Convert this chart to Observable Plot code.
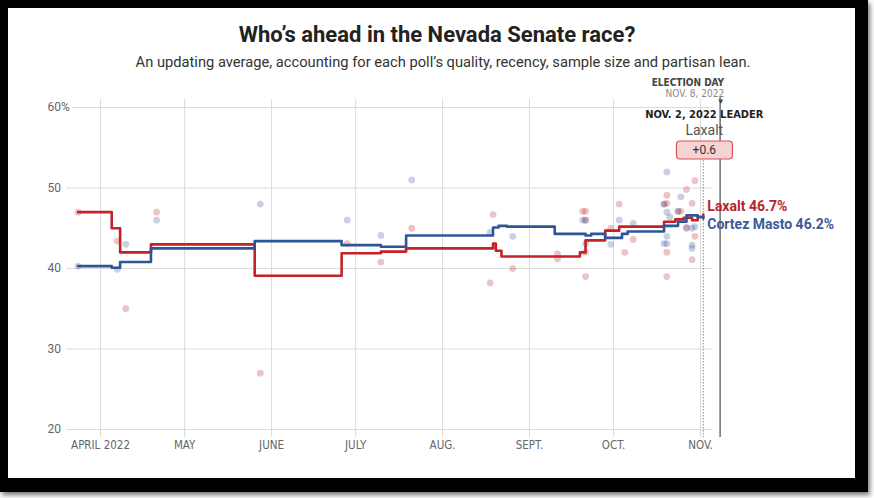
<!DOCTYPE html>
<html>
<head>
<meta charset="utf-8">
<script src="https://cdn.jsdelivr.net/npm/d3@7"></script>
<script src="https://cdn.jsdelivr.net/npm/@observablehq/plot@0.6"></script>
<style>
  html, body { margin: 0; padding: 0; background: #fff; width: 874px; height: 498px; overflow: hidden; }
  #frame { position: absolute; left: 0; top: 0; width: 868px; height: 492px; box-sizing: border-box;
           border-style: solid; border-color: #000; border-width: 8px 13px 14px 8px;
           box-shadow: 2px 3px 5px rgba(0,0,0,0.55); pointer-events: none; }
  #title { position: absolute; left: 0; top: 22px; width: 874px; text-align: center;
           font-family: Roboto, "Liberation Sans", sans-serif; font-weight: 700; font-size: 22px; color: #222; }
  #subtitle { position: absolute; left: 6px; top: 53px; width: 874px; text-align: center;
           font-family: Roboto, "Liberation Sans", sans-serif; font-size: 14.7px; color: #333; }
  #chart { position: absolute; left: 0; top: 70px; }
</style>
</head>
<body>
<div id="title">Who’s ahead in the Nevada Senate race?</div>
<div id="subtitle">An updating average, accounting for each poll’s quality, recency, sample size and partisan lean.</div>
<div id="chart"></div>
<div id="frame"></div>
<script>
// ---- Data ----
const candidates = ["Laxalt", "Cortez Masto"];
const colors = ["#c42229", "#2e5597"];
const labelColors = ["#b5252b", "#3d5a99"];

// Polling averages (step changes)
const laxaltAvgDates = ["2022-03-24","2022-04-05","2022-04-08","2022-04-19","2022-05-26","2022-06-26","2022-07-10","2022-07-19","2022-08-19","2022-08-20","2022-08-22","2022-09-19","2022-09-21","2022-09-28","2022-10-03","2022-10-19","2022-10-23","2022-10-26","2022-10-29","2022-10-31","2022-11-02"];
const laxaltAvgValues = [47.0,45.0,42.0,43.0,39.1,41.9,42.1,42.5,43.1,42.2,41.5,42.0,43.5,44.7,45.2,45.8,46.1,46.3,46.0,46.4,46.7];
const cortezAvgDates = ["2022-03-24","2022-04-05","2022-04-08","2022-04-19","2022-05-26","2022-06-26","2022-07-10","2022-07-19","2022-08-19","2022-08-21","2022-08-24","2022-09-10","2022-09-21","2022-09-23","2022-09-28","2022-10-04","2022-10-06","2022-10-19","2022-10-24","2022-10-27","2022-10-31","2022-11-02"];
const cortezAvgValues = [40.3,40.1,40.8,42.5,43.4,42.9,42.7,44.1,45.1,45.3,45.2,44.3,44.1,44.3,43.8,44.3,44.6,45.3,45.8,46.6,46.4,46.2];

// Individual polls
const laxaltPollDates = ["2022-03-24","2022-04-07","2022-04-10","2022-04-21","2022-05-28","2022-06-28","2022-07-10","2022-07-21","2022-08-19","2022-08-18","2022-08-26","2022-09-11","2022-09-11","2022-09-20","2022-09-21","2022-09-21","2022-09-21","2022-09-21","2022-09-30","2022-10-03","2022-10-05","2022-10-08","2022-10-19","2022-10-20","2022-10-20","2022-10-20","2022-10-20","2022-10-24","2022-10-25","2022-10-27","2022-10-27","2022-10-29","2022-10-30","2022-10-30","2022-10-29"];
const laxaltPollValues = [47.0,43.4,35.0,47.0,27.0,43.1,40.8,45.0,46.7,38.2,40.0,41.8,41.2,47.1,47.1,46.0,39.0,42.0,45.0,48.0,42.0,43.6,48.0,49.1,48.1,42.0,39.0,47.1,47.1,49.8,45.1,48.1,50.9,44.0,41.1];
const cortezPollDates = ["2022-03-24","2022-04-07","2022-04-10","2022-04-21","2022-05-28","2022-06-28","2022-07-10","2022-07-21","2022-08-18","2022-08-26","2022-09-21","2022-09-20","2022-09-21","2022-09-30","2022-10-03","2022-10-08","2022-10-19","2022-10-20","2022-10-20","2022-10-20","2022-10-19","2022-10-20","2022-10-21","2022-10-24","2022-10-25","2022-10-27","2022-10-29","2022-10-29","2022-10-29","2022-10-30"];
const cortezPollValues = [40.3,39.9,43.0,46.0,48.0,46.0,44.1,51.0,44.5,44.0,46.0,46.0,43.1,43.0,46.0,45.6,48.0,52.0,47.0,44.0,43.1,43.1,46.4,47.1,48.9,45.0,45.0,42.9,42.5,45.2];

// Axes / annotations
const yTicks = [20, 30, 40, 50, 60];
const yTickLabels = ["20", "30", "40", "50", "60%"];
const monthTicks = ["2022-04-01","2022-05-01","2022-06-01","2022-07-01","2022-08-01","2022-09-01","2022-10-01","2022-11-01"];
const monthLabels = ["APRIL 2022","MAY","JUNE","JULY","AUG.","SEPT.","OCT.","NOV."];
const electionDay = "2022-11-08";
const leaderDate = "2022-11-02";
const leaderName = "Laxalt";
const leadLabel = "+0.6";
const xDomain = ["2022-03-20", "2022-11-08"];
const gridEnd = "2022-11-05T12:00";

// ---- Build tables ----
const D = s => new Date(s + (s.length === 10 ? "T00:00Z" : "Z"));
const avg = [
  ...laxaltAvgDates.map((d, i) => ({date: D(d), value: laxaltAvgValues[i], cand: candidates[0]})),
  ...cortezAvgDates.map((d, i) => ({date: D(d), value: cortezAvgValues[i], cand: candidates[1]}))
];
const polls = [
  ...laxaltPollDates.map((d, i) => ({date: D(d), value: laxaltPollValues[i], cand: candidates[0]})),
  ...cortezPollDates.map((d, i) => ({date: D(d), value: cortezPollValues[i], cand: candidates[1]}))
];
const laxaltEnd = [{date: D(laxaltAvgDates.at(-1)), value: laxaltAvgValues.at(-1), text: `${candidates[0]} ${laxaltAvgValues.at(-1).toFixed(1)}%`}];
const cortezEnd = [{date: D(cortezAvgDates.at(-1)), value: cortezAvgValues.at(-1), text: `${candidates[1]} ${cortezAvgValues.at(-1).toFixed(1)}%`}];

const narrow = "'Liberation Sans Narrow', 'DejaVu Sans Condensed', 'Roboto', sans-serif";
const sans = "Roboto, 'Liberation Sans', sans-serif";

const chart = Plot.plot({
  width: 874,
  height: 428,
  marginTop: 37,
  marginBottom: 69,
  marginLeft: 66.36,
  marginRight: 154.37,
  style: {background: "transparent", overflow: "visible", fontFamily: sans},
  x: {type: "utc", domain: xDomain.map(D), axis: null},
  y: {domain: [20, 60], axis: null},
  color: {domain: candidates, range: colors},
  marks: [
    // gridlines
    Plot.ruleX(monthTicks.map(D), {y1: 61.0, y2: 19.0, stroke: "#dcdcdc", strokeWidth: 1}),
    Plot.ruleY(yTicks, {x1: d => D(d === 60 ? "2022-03-22" : xDomain[0]), x2: D(gridEnd), stroke: "#dcdcdc", strokeWidth: 1}),
    // axis labels
    Plot.text(yTicks, {y: d => d, text: (d, i) => yTickLabels[i], frameAnchor: "left", dx: -19.4, textAnchor: "start", fill: "#666", fontSize: 12, fontFamily: sans}),
    Plot.text(monthTicks.map(D), {x: d => d, text: (d, i) => monthLabels[i], frameAnchor: "bottom", dy: 19, fill: "#666", fontSize: 11.5, fontFamily: narrow}),
    // election day / leader rules
    Plot.ruleX([D(electionDay)], {y1: 61.24, y2: 19.0, stroke: "#7a7a7a", strokeWidth: 1.6}),
    Plot.ruleX([D(leaderDate)], {y1: 54.16, y2: 19.0, stroke: "#8a8a8a", strokeWidth: 1, strokeDasharray: "1.5,1.5"}),
    // polls
    Plot.dot(polls, {x: "date", y: "value", fill: "cand", r: 3.4, fillOpacity: 0.27, stroke: null}),
    // averages
    Plot.line(avg, {x: "date", y: "value", z: "cand", stroke: "cand", strokeWidth: 2.6, curve: "step-after"}),
    // end labels
    Plot.text(laxaltEnd, {x: "date", y: "value", text: "text", dx: 4, dy: -8, textAnchor: "start",
      fill: labelColors[0], fontWeight: 700, fontSize: 14, fontFamily: sans}),
    Plot.text(cortezEnd, {x: "date", y: "value", text: "text", dx: 4, dy: 6, textAnchor: "start",
      fill: labelColors[1], fontWeight: 700, fontSize: 14, fontFamily: sans}),
    // annotations top
    Plot.text([D(electionDay)], {x: d => d, text: ["ELECTION DAY"], frameAnchor: "top", dy: -29, dx: 4, textAnchor: "end", fill: "#444", fontWeight: 700, fontSize: 10, fontFamily: narrow}),
    Plot.text([D(electionDay)], {x: d => d, text: ["NOV. 8, 2022"], frameAnchor: "top", dy: -18, dx: 4, textAnchor: "end", fill: "#888", fontSize: 10, fontFamily: narrow}),
    Plot.text([D(electionDay)], {x: d => d, text: ["▼"], frameAnchor: "top", dy: -9, dx: 0.5, fill: "#444", fontSize: 8}),
    Plot.text([D(leaderDate)], {x: d => d, text: ["NOV. 2, 2022 LEADER"], frameAnchor: "top", dy: 3, dx: 1, fill: "#222", fontWeight: 700, fontSize: 11, fontFamily: narrow}),
    Plot.text([D(leaderDate)], {x: d => d, text: [leaderName], frameAnchor: "top", dy: 18, dx: 1, fill: "#555", fontSize: 14, fontFamily: sans}),
    Plot.text([D(leaderDate)], {x: d => d, text: [leadLabel], frameAnchor: "top", dy: 38, dx: 1, fill: "#333", fontSize: 12, fontFamily: sans, letterSpacing: "3px"})
  ]
});
document.getElementById("chart").appendChild(chart);

// rounded box behind the lead label (positioned from the rendered text)
const svgRect = chart.getBoundingClientRect();
d3.select(chart).selectAll("text").filter(function () { return this.textContent === leadLabel; }).each(function () {
  const b = this.getBoundingClientRect();
  const cx = b.left + b.width / 2 - svgRect.left;
  const cy = b.top + b.height / 2 - svgRect.top;
  const g = this.closest("g");
  d3.select(chart).insert("rect", () => g)
    .attr("x", cx - 28).attr("y", cy - 9).attr("width", 56).attr("height", 18)
    .attr("rx", 3.5).attr("fill", "#f6d2d2").attr("stroke", "#d4555a").attr("stroke-width", 1.2);
});
</script>
</body>
</html>
